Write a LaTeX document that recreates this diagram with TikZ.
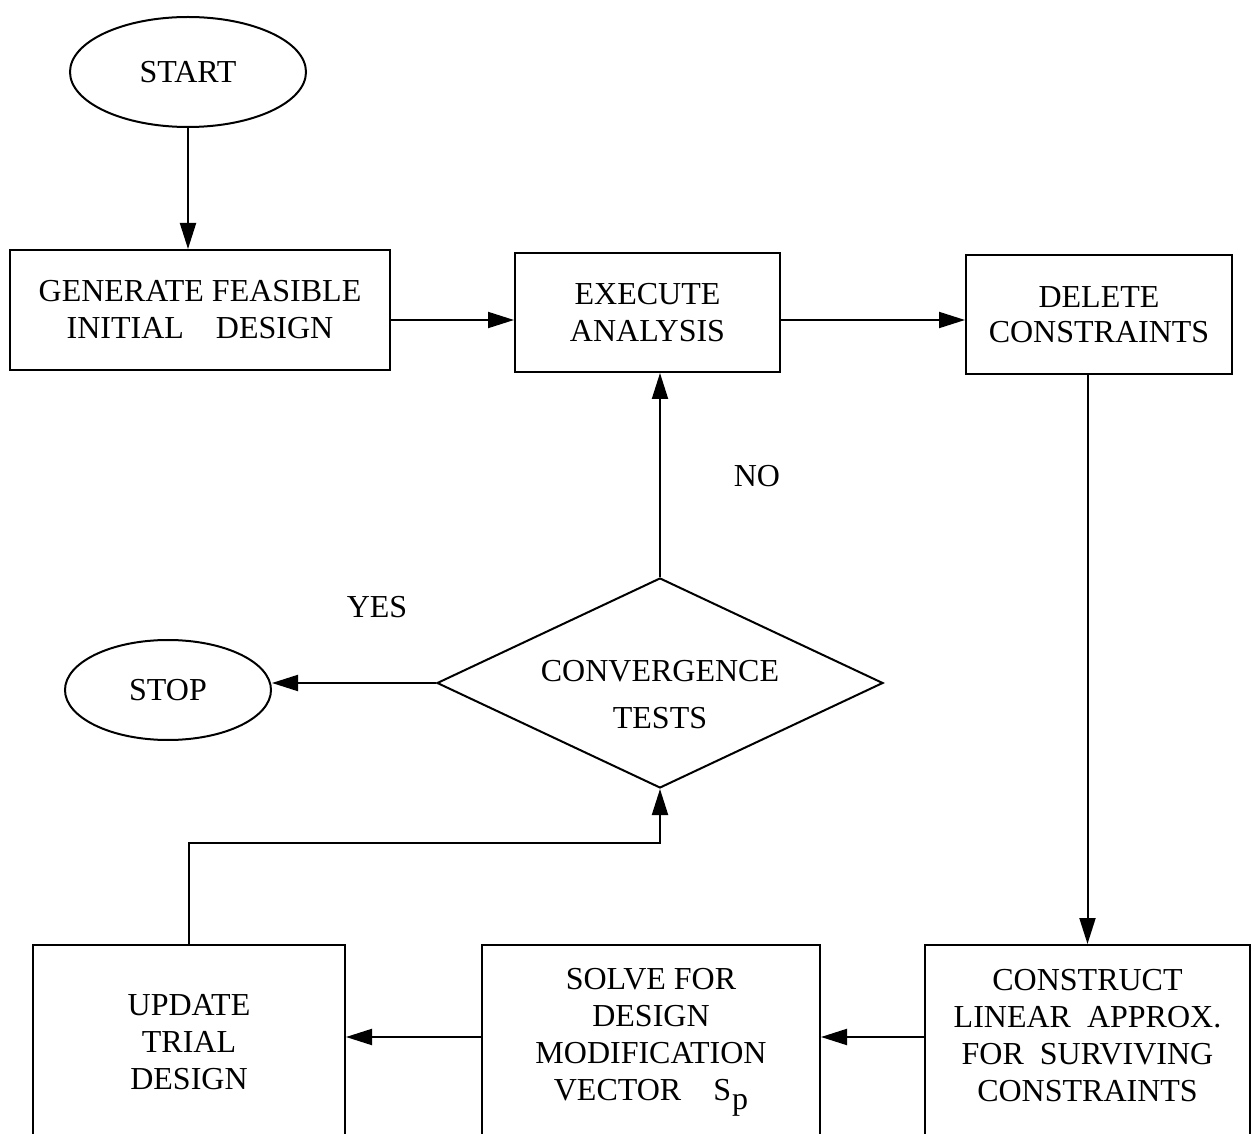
\documentclass[tikz,border=0pt]{standalone}
\usepackage{fontspec}
\setmainfont{Liberation Serif}
\usetikzlibrary{shapes.geometric,arrows.meta}

\begin{document}
\begin{tikzpicture}[x=0.5pt, y=-0.5pt, font=\fontsize{16}{18.5}\selectfont]
    \tikzset{
      box/.style={draw, line width=1pt, rectangle, align=center, inner sep=0pt},
      term/.style={draw, line width=1pt, ellipse, inner sep=0pt},
      test/.style={draw, line width=1pt, diamond, shape aspect=2.1, inner sep=0pt,
                   minimum width=223pt, minimum height=105pt},
      arr/.style={line width=1pt, -{Triangle[length=13pt, width=8pt]}},
      lab/.style={inner sep=0pt}
    }
    \useasboundingbox (0,0) rectangle (1255,1134);
    \clip (0,0) rectangle (1255,1134);
    % top row
    \node[term, minimum width=118pt, minimum height=55pt] (start) at (188,72) {START};
    \node[box, minimum width=190pt, minimum height=60pt] (gen) at (200,310)
      {GENERATE FEASIBLE\\INITIAL\quad DESIGN};
    \node[box, minimum width=132.5pt, minimum height=59.5pt] (exec) at (647.5,312.5)
      {EXECUTE\\ANALYSIS};
    \node[box, minimum width=133pt, minimum height=59.5pt] (del) at (1099,314.5)
      {DELETE\\[-1pt]CONSTRAINTS};
    % test and stop
    \node[test] (conv) at (660,683)
      {\raisebox{-7.5pt}[\height][\depth]{\begin{tabular}{@{}c@{}}CONVERGENCE\\[5pt]TESTS\end{tabular}}};
    \node[term, minimum width=103pt, minimum height=50pt] (stop) at (168,690) {STOP};
    \node[lab] (no) at (757,476) {NO};
    \node[lab] (yes) at (377,607) {YES};
    % bottom row (cut by the lower edge)
    \node[box, minimum width=162.5pt, minimum height=97.5pt] (cons) at (1087.5,1042.5)
      {\raisebox{2pt}[\height][\depth]{\begin{tabular}{@{}c@{}}CONSTRUCT\\LINEAR\enspace APPROX.\\FOR\enspace SURVIVING\\CONSTRAINTS\end{tabular}}};
    \node[box, minimum width=169pt, minimum height=97.5pt] (solve) at (651,1042.5)
      {SOLVE FOR\\DESIGN\\MODIFICATION\\VECTOR\quad S\kern0.5pt\raisebox{-0.6ex}{p}};
    \node[box, minimum width=156pt, minimum height=97.5pt] (upd) at (189,1042.5)
      {UPDATE\\TRIAL\\DESIGN};
    \coordinate (row) at (0,320);
    \coordinate (low) at (0,1037);
    \coordinate (bend) at (660,843);
    % connectors
    \draw[arr] (start) -- (start |- gen.north);
    \foreach \a/\b in {gen/exec, exec/del} {
      \draw[arr] (\a.east |- row) -- (\b.west |- row);
    }
    \foreach \a/\b in {cons/solve, solve/upd} {
      \draw[arr] (\a.west |- low) -- (\b.east |- low);
    }
    \draw[arr] (cons.north |- del.south) -- (cons.north);
    \draw[arr] (conv.north) -- (conv.north |- exec.south);
    \draw[arr] (conv.west) -- (conv.west -| stop.east);
    \draw[arr] (upd.north) |- (bend) -- (conv.south);
  \end{tikzpicture}
\end{document}
